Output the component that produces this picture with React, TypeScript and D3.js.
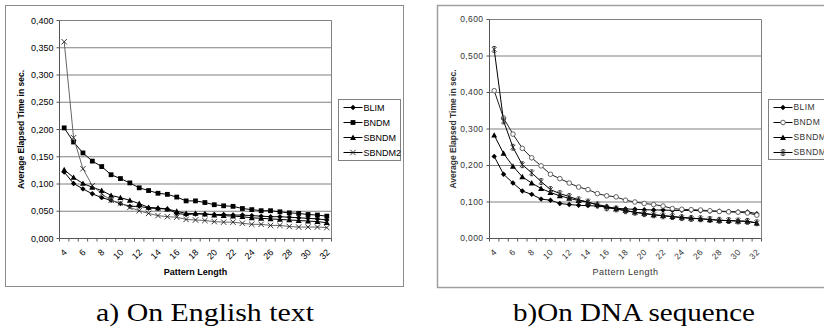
import React from 'react';
import * as d3 from 'd3';

// pattern lengths on the x axis
const lengths = [4, 5, 6, 7, 8, 9, 10, 11, 12, 13, 14, 15, 16, 17, 18, 19, 20, 21, 22, 23, 24, 25, 26, 27, 28, 29, 30, 31, 32];
const labelLengths = [4, 6, 8, 10, 12, 14, 16, 18, 20, 22, 24, 26, 28, 30, 32];
const seriesNames = ['BLIM', 'BNDM', 'SBNDM', 'SBNDM2'];

// a) English text
const engBLIM = [0.122, 0.101, 0.091, 0.082, 0.075, 0.070, 0.064, 0.059, 0.059, 0.056, 0.055, 0.054, 0.046, 0.044, 0.045, 0.045, 0.044, 0.044, 0.043, 0.043, 0.042, 0.041, 0.040, 0.040, 0.039, 0.038, 0.037, 0.036, 0.034];
const engBNDM = [0.203, 0.177, 0.157, 0.142, 0.132, 0.117, 0.110, 0.102, 0.093, 0.088, 0.083, 0.081, 0.076, 0.069, 0.069, 0.066, 0.062, 0.060, 0.059, 0.055, 0.053, 0.051, 0.051, 0.049, 0.047, 0.046, 0.044, 0.043, 0.041];
const engSBNDM = [0.126, 0.112, 0.101, 0.094, 0.088, 0.079, 0.075, 0.070, 0.064, 0.057, 0.056, 0.054, 0.050, 0.046, 0.046, 0.045, 0.043, 0.042, 0.041, 0.040, 0.038, 0.037, 0.036, 0.035, 0.034, 0.033, 0.032, 0.031, 0.029];
const engSBNDM2 = [0.361, 0.185, 0.128, 0.097, 0.082, 0.070, 0.065, 0.057, 0.051, 0.046, 0.042, 0.040, 0.039, 0.035, 0.034, 0.033, 0.031, 0.030, 0.030, 0.028, 0.026, 0.026, 0.024, 0.024, 0.022, 0.021, 0.021, 0.021, 0.020];
const engTicks = [0, 0.05, 0.1, 0.15, 0.2, 0.25, 0.3, 0.35, 0.4];

// b) DNA sequence
const dnaBLIM = [0.225, 0.176, 0.152, 0.130, 0.121, 0.108, 0.105, 0.096, 0.093, 0.091, 0.090, 0.089, 0.086, 0.083, 0.081, 0.080, 0.079, 0.078, 0.078, 0.077, 0.077, 0.077, 0.076, 0.075, 0.075, 0.074, 0.073, 0.073, 0.068];
const dnaBNDM = [0.405, 0.330, 0.286, 0.247, 0.221, 0.199, 0.176, 0.164, 0.152, 0.141, 0.134, 0.123, 0.117, 0.114, 0.105, 0.100, 0.096, 0.093, 0.089, 0.082, 0.080, 0.079, 0.078, 0.076, 0.074, 0.073, 0.072, 0.070, 0.064];
const dnaSBNDM = [0.283, 0.233, 0.198, 0.169, 0.152, 0.137, 0.126, 0.117, 0.110, 0.104, 0.099, 0.093, 0.088, 0.081, 0.077, 0.072, 0.069, 0.065, 0.063, 0.060, 0.058, 0.056, 0.054, 0.052, 0.050, 0.049, 0.048, 0.047, 0.042];
const dnaSBNDM2 = [0.518, 0.322, 0.250, 0.202, 0.180, 0.156, 0.134, 0.123, 0.115, 0.106, 0.100, 0.092, 0.084, 0.081, 0.076, 0.072, 0.068, 0.065, 0.062, 0.060, 0.057, 0.055, 0.054, 0.052, 0.050, 0.049, 0.048, 0.047, 0.043];
const dnaTicks = [0, 0.1, 0.2, 0.3, 0.4, 0.5, 0.6];

const fmt = d3.formatLocale({ decimal: ',', thousands: '.', grouping: [3], currency: ['', ''] }).format('.3f');
const font = '"Liberation Sans", Arial, sans-serif';

function markerPath(type, s) {
  if (type === 'diamond') return `M0,${-s}L${s},0L0,${s}L${-s},0Z`;
  if (type === 'square') return `M${-s},${-s}h${2 * s}v${2 * s}h${-2 * s}Z`;
  if (type === 'triangle') return `M0,${-s}L${s},${s * 0.8}L${-s},${s * 0.8}Z`;
  if (type === 'x') return `M${-s},${-s}L${s},${s}M${-s},${s}L${s},${-s}`;
  if (type === 'star') return `M${-s},${-s}L${s},${s}M${-s},${s}L${s},${-s}M0,${-s - 0.5}L0,${s + 0.5}M-1.5,${-s - 0.5}h3M-1.5,${s + 0.5}h3`;
  return '';
}

function Marker({ type, x, y }) {
  if (type === 'circle') {
    return <circle cx={x} cy={y} r={2.3} fill="#fff" stroke="#555" strokeWidth={0.9} />;
  }
  const stroked = type === 'x' || type === 'star';
  const s = type === 'square' ? 2.4 : type === 'triangle' ? 3 : type === 'star' ? 2.4 : 2.7;
  return (
    <path
      d={markerPath(type, s)}
      transform={`translate(${x},${y})`}
      fill={stroked ? 'none' : '#000'}
      stroke={stroked ? '#222' : 'none'}
      strokeWidth={stroked ? 0.9 : 0}
    />
  );
}

function Chart({ frame, plot, legend, yMax, ticks, series, light, caption, captionX, captionW }) {
  const x = d3.scaleBand().domain(lengths).range([plot.x0, plot.x1]).padding(0);
  const y = d3.scaleLinear().domain([0, yMax]).range([plot.y1, plot.y0]);
  const bw = x.bandwidth();
  const cx = (v) => x(v) + bw / 2;
  const line = d3.line().x((d) => cx(d[0])).y((d) => y(d[1]));
  const textFill = light ? '#333' : '#000';
  const ls = light ? 0.4 : 0;

  return (
    <g>
      <rect x={frame.x} y={frame.y} width={frame.w} height={frame.h} fill="#fff" stroke={light ? '#a0a0a0' : '#8c8c8c'} strokeWidth={light ? 1.5 : 1} />
      {/* grid */}
      {ticks.filter((t) => t > 0).map((t) => (
        <line key={t} x1={plot.x0} x2={plot.x1} y1={y(t)} y2={y(t)} stroke="#808080" strokeWidth={1} />
      ))}
      <line x1={plot.x1} x2={plot.x1} y1={plot.y0} y2={plot.y1} stroke="#808080" />
      {/* axes */}
      <line x1={plot.x0} x2={plot.x0} y1={plot.y0} y2={plot.y1} stroke="#555" />
      <line x1={plot.x0} x2={plot.x1} y1={plot.y1} y2={plot.y1} stroke="#555" />
      {ticks.map((t) => (
        <g key={t}>
          <line x1={plot.x0 - 3} x2={plot.x0} y1={y(t)} y2={y(t)} stroke="#555" />
          <text x={plot.x0 - 6} y={y(t)} dy="0.35em" textAnchor="end" fontSize={light ? 8.5 : 9} fill={textFill} fontFamily={font} letterSpacing={ls}>
            {fmt(t)}
          </text>
        </g>
      ))}
      {lengths.map((v) => (
        <line key={v} x1={x(v)} x2={x(v)} y1={plot.y1} y2={plot.y1 + 3} stroke="#555" />
      ))}
      <line x1={plot.x1} x2={plot.x1} y1={plot.y1} y2={plot.y1 + 3} stroke="#555" />
      {labelLengths.map((v) => (
        <text key={v} transform={`translate(${cx(v) - 1},${plot.y1 + 10}) rotate(-45)`} textAnchor="end" dy="0.7em" fontSize={light ? 8.5 : 9} fill={textFill} fontFamily={font} letterSpacing={ls}>
          {v}
        </text>
      ))}
      <text x={(plot.x0 + plot.x1) / 2} y={plot.y1 + 36} textAnchor="middle" fontSize={9} fontWeight={light ? 'normal' : 'bold'} fill={textFill} fontFamily={font} letterSpacing={light ? 0.5 : 0}>
        Pattern Length
      </text>
      <text transform={`translate(${frame.x + 18},${(plot.y0 + plot.y1) / 2}) rotate(-90)`} textAnchor="middle" fontSize={8.5} fontWeight="bold" fill={textFill} fontFamily={font}>
        Average Elapsed Time in sec.
      </text>
      {/* series */}
      {series.map((s) => {
        const pts = lengths.map((v, i) => [v, s.values[i]]);
        return (
          <g key={s.name}>
            <path d={line(pts)} fill="none" stroke={s.stroke} strokeWidth={1} />
            {pts.map((p) => (
              <Marker key={p[0]} type={s.marker} x={cx(p[0])} y={y(p[1])} />
            ))}
          </g>
        );
      })}
      {/* legend */}
      <rect x={legend.x} y={legend.y} width={legend.w} height={legend.h} fill="#fff" stroke="#808080" />
      {series.map((s, i) => {
        const ly = legend.y + 8 + i * 15;
        return (
          <g key={s.name}>
            <line x1={legend.x + 5} x2={legend.x + 24} y1={ly} y2={ly} stroke="#000" />
            <Marker type={s.marker} x={legend.x + 14.5} y={ly} />
            <text x={legend.x + 25} y={ly} dy="0.35em" fontSize={light ? 8.5 : 9} fill={textFill} fontFamily={font} letterSpacing={ls}>
              {s.name}
            </text>
          </g>
        );
      })}
      <text x={captionX} y={321} textAnchor="middle" fontSize={25} fontFamily='"Liberation Serif", "Times New Roman", serif' fill="#000" textLength={captionW} lengthAdjust="spacingAndGlyphs">
        {caption}
      </text>
    </g>
  );
}

export default function App() {
  const engSeries = [
    { name: seriesNames[0], values: engBLIM, marker: 'diamond', stroke: '#000' },
    { name: seriesNames[1], values: engBNDM, marker: 'square', stroke: '#000' },
    { name: seriesNames[2], values: engSBNDM, marker: 'triangle', stroke: '#000' },
    { name: seriesNames[3], values: engSBNDM2, marker: 'x', stroke: '#666' },
  ];
  const dnaSeries = [
    { name: seriesNames[0], values: dnaBLIM, marker: 'diamond', stroke: '#000' },
    { name: seriesNames[1], values: dnaBNDM, marker: 'circle', stroke: '#222' },
    { name: seriesNames[2], values: dnaSBNDM, marker: 'triangle', stroke: '#000' },
    { name: seriesNames[3], values: dnaSBNDM2, marker: 'star', stroke: '#000' },
  ];
  return (
    <svg width={824} height={332} style={{ position: 'absolute', left: 0, top: 0, background: '#fff' }}>
      <rect width={824} height={332} fill="#fff" />
      <Chart
        frame={{ x: 5.5, y: 5.5, w: 398, h: 281 }}
        plot={{ x0: 59.5, x1: 331.5, y0: 20.5, y1: 238.5 }}
        legend={{ x: 338.5, y: 99.5, w: 62, h: 61 }}
        yMax={0.4}
        ticks={engTicks}
        series={engSeries}
        light={false}
        caption="a) On English text"
        captionX={205}
        captionW={218}
      />
      <Chart
        frame={{ x: 437.5, y: 5.5, w: 400, h: 282 }}
        plot={{ x0: 489.5, x1: 761.5, y0: 19.5, y1: 238.5 }}
        legend={{ x: 768.5, y: 99.5, w: 64, h: 60 }}
        yMax={0.6}
        ticks={dnaTicks}
        series={dnaSeries}
        light={true}
        caption="b)On DNA sequence"
        captionX={634}
        captionW={242}
      />
    </svg>
  );
}
